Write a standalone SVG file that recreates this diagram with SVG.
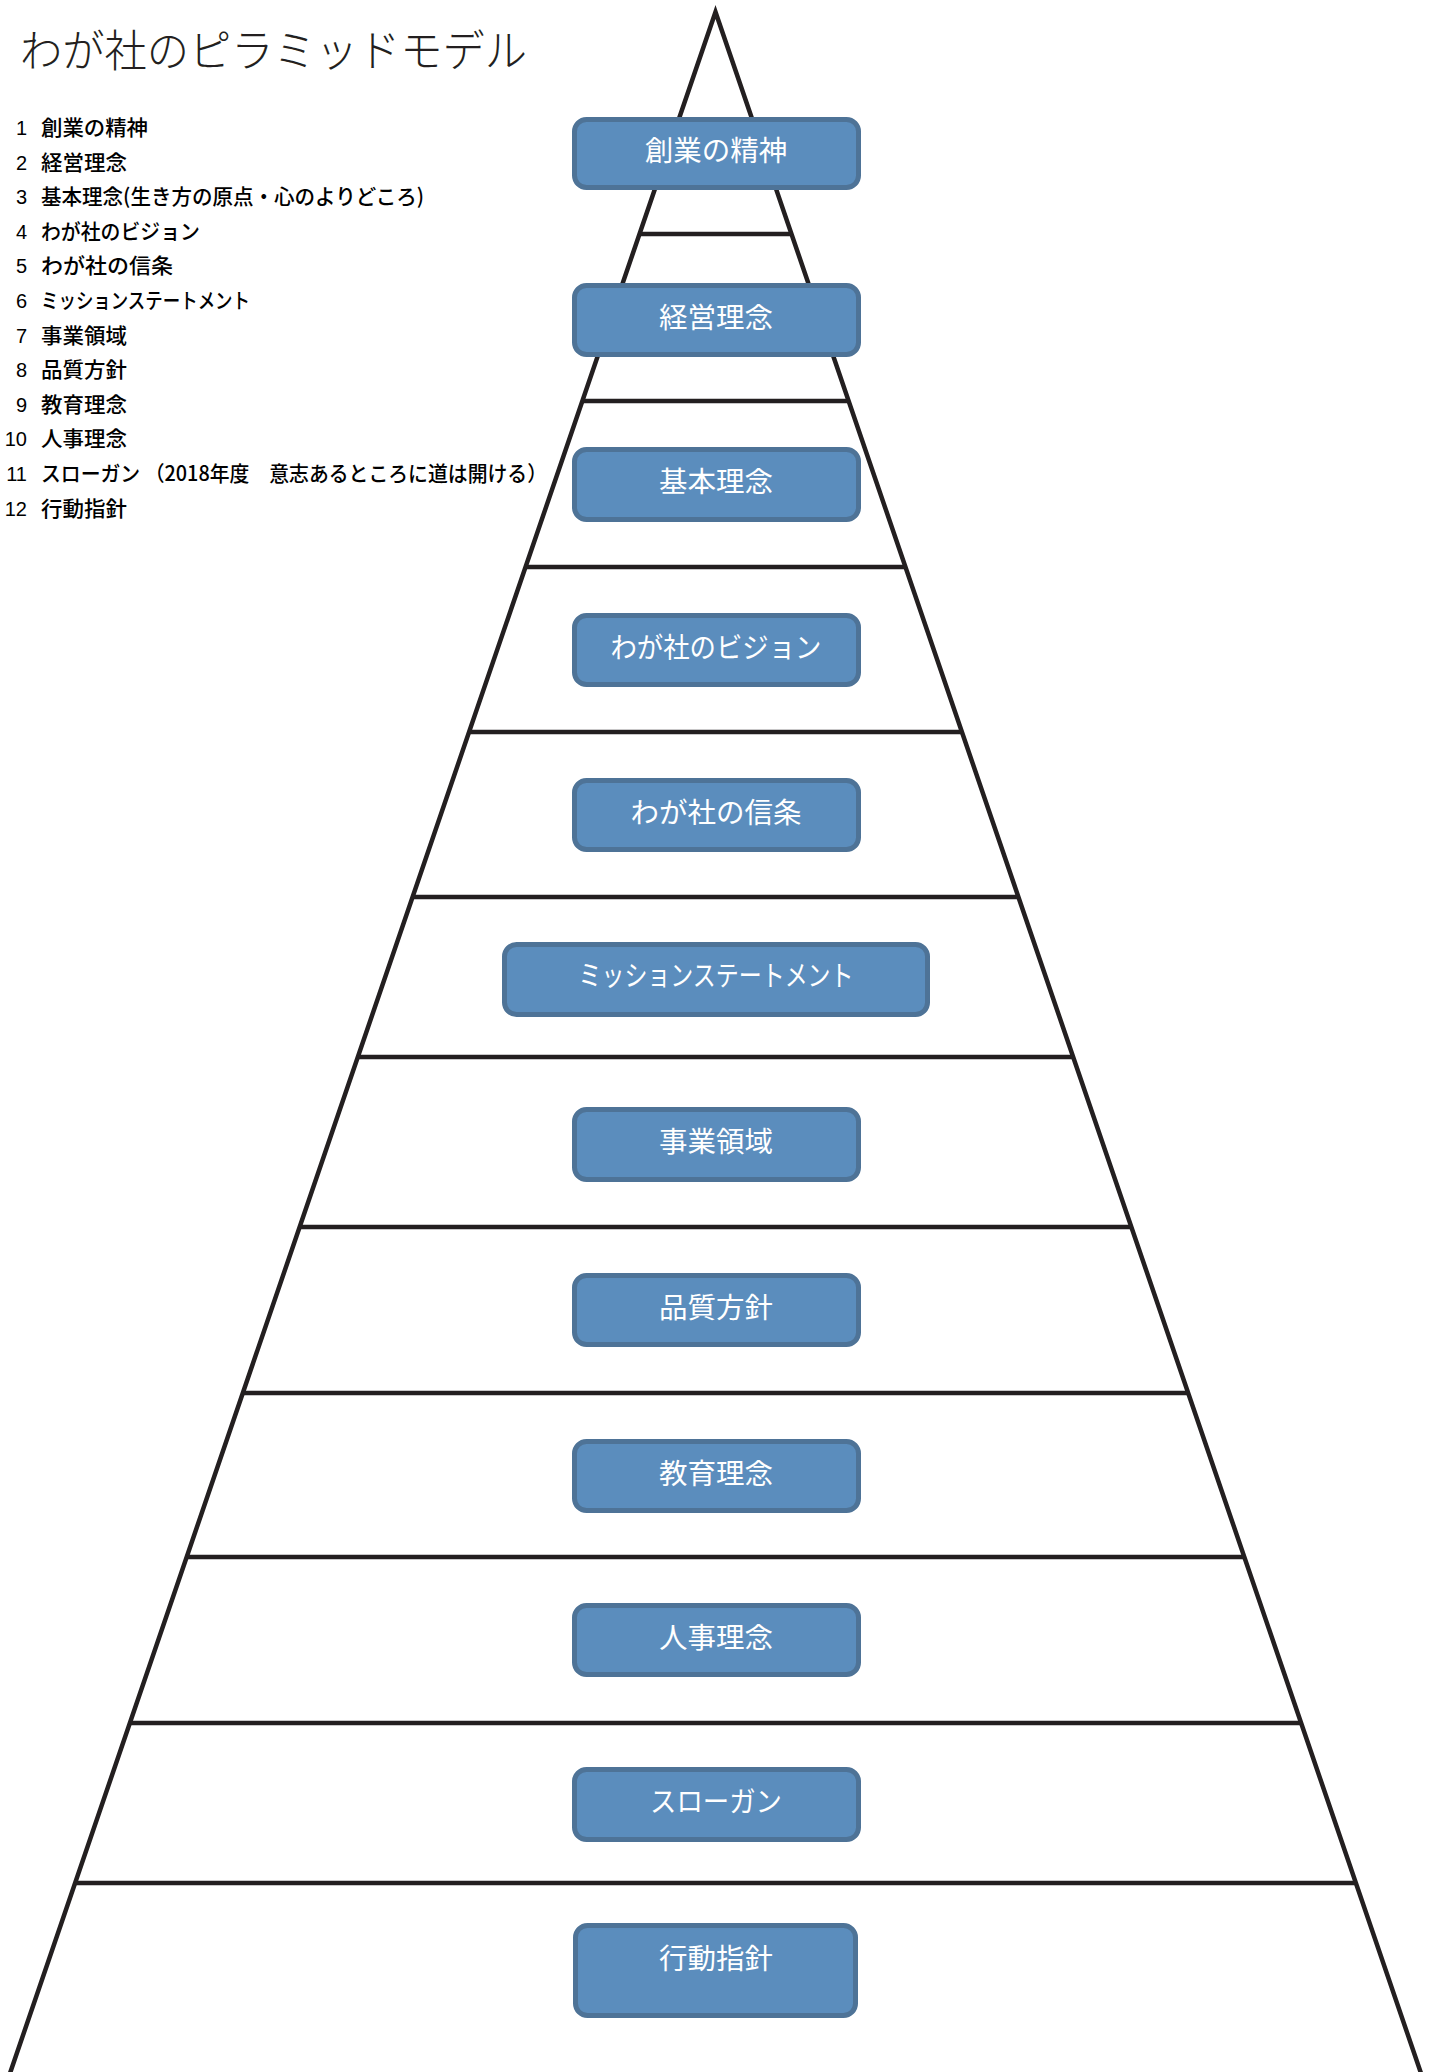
<svg xmlns="http://www.w3.org/2000/svg" width="1430" height="2072" viewBox="0 0 1430 2072">
<style>
.title{font-family:"Noto Sans CJK JP","Noto Sans",sans-serif;font-size:44px;font-weight:300;fill:#231f20}
.leg{font-family:"Noto Sans CJK JP","Noto Sans",sans-serif;font-size:21px;font-weight:500;fill:#000}
.num{font-family:"Liberation Sans","Noto Sans CJK JP",sans-serif;font-size:20px;fill:#000;text-anchor:end}
.edge{fill:none;stroke:#231f20;stroke-width:4.5;stroke-linejoin:miter}
.tier{stroke:#231f20;stroke-width:4.5}
.box{fill:#5b8dbd;stroke:#4e7397;stroke-width:5}
.lbl{font-family:"Noto Sans CJK JP","Noto Sans",sans-serif;font-size:28.5px;fill:#fff;text-anchor:middle}
</style>
<rect width="1430" height="2072" fill="#fff"/>
<text class="title" x="20" y="67" textLength="507" lengthAdjust="spacingAndGlyphs">わが社のピラミッドモデル</text>
<g id="legend">
<text class="num" x="27" y="135">1</text><text class="leg" x="41" y="135" textLength="107" lengthAdjust="spacingAndGlyphs">創業の精神</text>
<text class="num" x="27" y="169.6">2</text><text class="leg" x="41" y="169.6" textLength="86" lengthAdjust="spacingAndGlyphs">経営理念</text>
<text class="num" x="27" y="204.2">3</text><text class="leg" x="41" y="204.2" textLength="383" lengthAdjust="spacingAndGlyphs">基本理念(生き方の原点・心のよりどころ)</text>
<text class="num" x="27" y="238.8">4</text><text class="leg" x="41" y="238.8" textLength="159" lengthAdjust="spacingAndGlyphs">わが社のビジョン</text>
<text class="num" x="27" y="273.4">5</text><text class="leg" x="41" y="273.4" textLength="132" lengthAdjust="spacingAndGlyphs">わが社の信条</text>
<text class="num" x="27" y="308">6</text><text class="leg" x="41" y="308" textLength="209" lengthAdjust="spacingAndGlyphs">ミッションステートメント</text>
<text class="num" x="27" y="342.6">7</text><text class="leg" x="41" y="342.6" textLength="86" lengthAdjust="spacingAndGlyphs">事業領域</text>
<text class="num" x="27" y="377.2">8</text><text class="leg" x="41" y="377.2" textLength="86" lengthAdjust="spacingAndGlyphs">品質方針</text>
<text class="num" x="27" y="411.8">9</text><text class="leg" x="41" y="411.8" textLength="86" lengthAdjust="spacingAndGlyphs">教育理念</text>
<text class="num" x="27" y="446.4">10</text><text class="leg" x="41" y="446.4" textLength="86" lengthAdjust="spacingAndGlyphs">人事理念</text>
<text class="num" x="27" y="481">11</text><text class="leg" x="41" y="481" textLength="506" lengthAdjust="spacingAndGlyphs">スローガン （2018年度　意志あるところに道は開ける）</text>
<text class="num" x="27" y="515.6">12</text><text class="leg" x="41" y="515.6" textLength="86" lengthAdjust="spacingAndGlyphs">行動指針</text>
</g>
<g id="pyramid">
<polyline class="edge" points="7,2082 715.5,12 1424,2082"/>
<line class="tier" x1="638.9" y1="234" x2="792.1" y2="234"/>
<line class="tier" x1="581.8" y1="401" x2="849.2" y2="401"/>
<line class="tier" x1="525" y1="567" x2="906" y2="567"/>
<line class="tier" x1="468.6" y1="732" x2="962.4" y2="732"/>
<line class="tier" x1="412.2" y1="897" x2="1018.8" y2="897"/>
<line class="tier" x1="357.5" y1="1057" x2="1073.5" y2="1057"/>
<line class="tier" x1="299.3" y1="1227" x2="1131.7" y2="1227"/>
<line class="tier" x1="242.5" y1="1393" x2="1188.5" y2="1393"/>
<line class="tier" x1="186.5" y1="1557" x2="1244.5" y2="1557"/>
<line class="tier" x1="129.7" y1="1723" x2="1301.3" y2="1723"/>
<line class="tier" x1="75" y1="1883" x2="1356" y2="1883"/>
</g>
<g id="n1"><rect class="box" x="574.5" y="119.5" width="284" height="68" rx="12"/><text class="lbl" x="716" y="161">創業の精神</text></g>
<g id="n2"><rect class="box" x="574.5" y="285.5" width="284" height="69" rx="12"/><text class="lbl" x="716" y="328">経営理念</text></g>
<g id="n3"><rect class="box" x="574.5" y="449.5" width="284" height="70" rx="12"/><text class="lbl" x="716" y="492">基本理念</text></g>
<g id="n4"><rect class="box" x="574.5" y="615.5" width="284" height="69" rx="12"/><text class="lbl" x="716" y="658" textLength="211" lengthAdjust="spacingAndGlyphs">わが社のビジョン</text></g>
<g id="n5"><rect class="box" x="574.5" y="780.5" width="284" height="69" rx="12"/><text class="lbl" x="716" y="823">わが社の信条</text></g>
<g id="n6"><rect class="box" x="504.5" y="944.5" width="423" height="70" rx="12"/><text class="lbl" x="716" y="986" textLength="275" lengthAdjust="spacingAndGlyphs">ミッションステートメント</text></g>
<g id="n7"><rect class="box" x="574.5" y="1109.5" width="284" height="70" rx="12"/><text class="lbl" x="716" y="1152">事業領域</text></g>
<g id="n8"><rect class="box" x="574.5" y="1275.5" width="284" height="69" rx="12"/><text class="lbl" x="716" y="1318">品質方針</text></g>
<g id="n9"><rect class="box" x="574.5" y="1441.5" width="284" height="69" rx="12"/><text class="lbl" x="716" y="1484">教育理念</text></g>
<g id="n10"><rect class="box" x="574.5" y="1605.5" width="284" height="69" rx="12"/><text class="lbl" x="716" y="1648">人事理念</text></g>
<g id="n11"><rect class="box" x="574.5" y="1769.5" width="284" height="70" rx="12"/><text class="lbl" x="716" y="1812" textLength="132" lengthAdjust="spacingAndGlyphs">スローガン</text></g>
<g id="n12"><rect class="box" x="575.5" y="1925.5" width="280" height="90" rx="12"/><text class="lbl" x="716" y="1969">行動指針</text></g>
</svg>
